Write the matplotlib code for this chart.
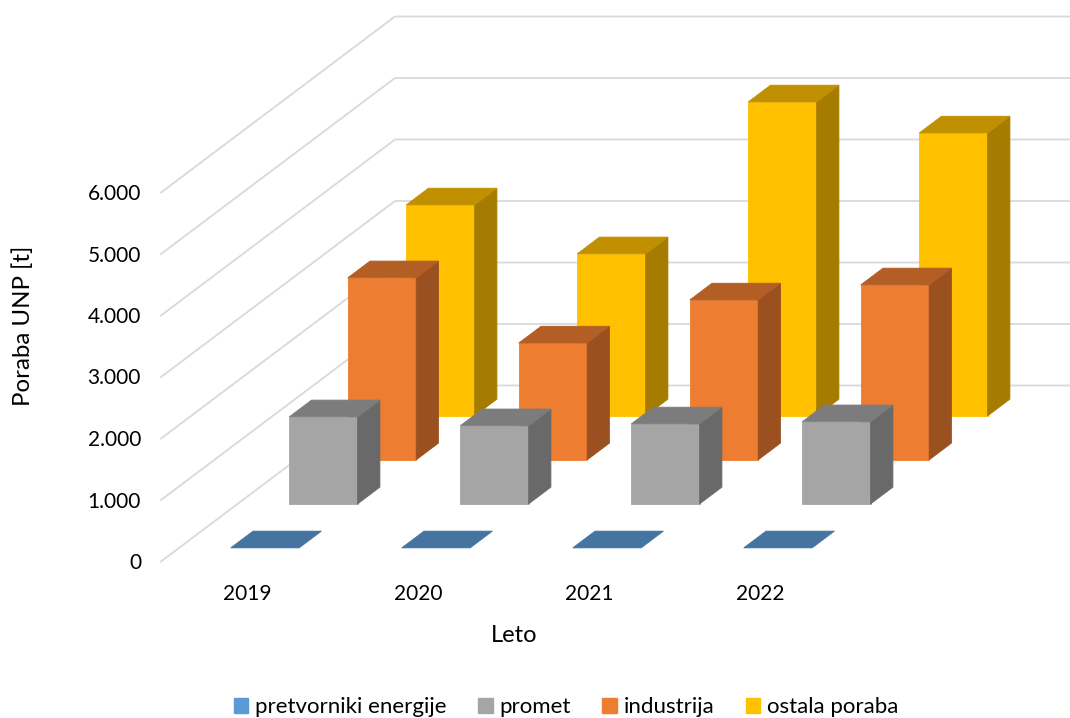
import matplotlib
matplotlib.use("Agg")
import matplotlib.pyplot as plt
from matplotlib.patches import Patch, Polygon

plt.rcParams['font.family'] = ['Lato', 'DejaVu Sans']

years = ['2019', '2020', '2021', '2022']
series = ['pretvorniki energije', 'promet', 'industrija', 'ostala poraba']
pretvorniki = [0, 0, 0, 0]
promet = [1415, 1270, 1300, 1335]
industrija = [2960, 1900, 2600, 2845]
ostala = [3430, 2635, 5105, 4600]
y_ticks = [0, 1000, 2000, 3000, 4000, 5000, 6000]
y_tick_labels = ['0', '1.000', '2.000', '3.000', '4.000', '5.000', '6.000']

legend_colors = ['#5B9BD5', '#A5A5A5', '#ED7D31', '#FFC000']
front_colors = ['#4A78A6', '#A5A5A5', '#ED7D31', '#FFC000']
top_colors = ['#44749F', '#7C7C7C', '#B35E25', '#C09000']
side_colors = ['#36587A', '#696969', '#9A501F', '#A67C00']


# oblique projection of (category, depth slot, value) to figure pixels
def project(cat, depth, value):
    x = 161 + 171 * cat + 58.5 * depth
    y = 561.5 - 44 * depth - 0.0615 * value
    return (x, y)


def draw_bar(ax, cat, slot, value, color_i):
    c0, c1 = cat + 0.302, cat + 0.702
    d0, d1 = slot + 0.31, slot + 0.69
    z = 10 + (3 - slot) * 10
    front = [project(c0, d0, 0), project(c1, d0, 0), project(c1, d0, value), project(c0, d0, value)]
    side = [project(c1, d0, 0), project(c1, d1, 0), project(c1, d1, value), project(c1, d0, value)]
    top = [project(c0, d0, value), project(c1, d0, value), project(c1, d1, value), project(c0, d1, value)]
    if value > 0:
        ax.add_patch(Polygon(front, fc=front_colors[color_i], ec=front_colors[color_i], lw=0.6, zorder=z))
        ax.add_patch(Polygon(side, fc=side_colors[color_i], ec=side_colors[color_i], lw=0.6, zorder=z))
    ax.add_patch(Polygon(top, fc=top_colors[color_i], ec=top_colors[color_i], lw=0.6, zorder=z))


fig = plt.figure(figsize=(10.7, 7.18), dpi=100)
ax = fig.add_axes([0, 0, 1, 1])
ax.set_xlim(0, 1070)
ax.set_ylim(718, 0)
ax.axis('off')

grid = '#D9D9D9'
for v, lab in zip(y_ticks, y_tick_labels):
    p0 = project(0, 0, v)
    p1 = project(0, 4, v)
    ax.plot([p0[0], p1[0], 1070], [p0[1], p1[1], p1[1]], color=grid, lw=1.3, zorder=1)
    ax.text(141, p0[1] + 1.5, lab, ha='right', va='center', fontsize=15, color='black')

all_values = [pretvorniki, promet, industrija, ostala]
for slot in [3, 2, 1, 0]:
    for c, val in enumerate(all_values[slot]):
        draw_bar(ax, c, slot, val, slot)

for c, yr in enumerate(years):
    ax.text(project(c, 0, 0)[0] + 86.5, 594, yr, ha='center', va='center', fontsize=15, color='black')

ax.text(514, 635, 'Leto', ha='center', va='center', fontsize=17, color='black')
ax.text(23, 326, 'Poraba UNP [t]', ha='center', va='center', rotation=90, fontsize=17.3, color='black')

handles = [Patch(fc=col, ec=col, label=s) for col, s in zip(legend_colors, series)]
ax.legend(handles=handles, ncol=4, loc='center', bbox_to_anchor=(566 / 1070, 1 - 707 / 718),
          frameon=False, fontsize=16, handlelength=0.66, handleheight=0.66,
          handletextpad=0.3, columnspacing=1.42, borderpad=0)

fig.savefig('out.png', dpi=100)
